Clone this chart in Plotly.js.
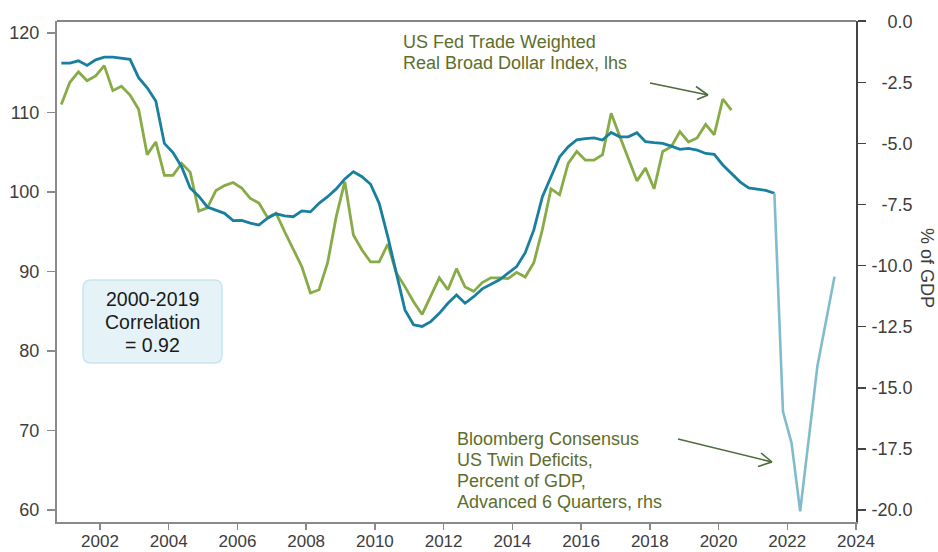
<!DOCTYPE html>
<html>
<head>
<meta charset="utf-8">
<script src="https://cdn.plot.ly/plotly-3.0.1.min.js"></script>
<style>html,body{margin:0;padding:0;background:#fff;}#chart{width:938px;height:552px;}</style>
</head>
<body>
<div id="chart"></div>
<script>
// Quarterly observation dates (decimal years)
const quarters = [
  2000.875, 2001.125, 2001.375, 2001.625, 2001.875, 2002.125, 2002.375, 2002.625, 2002.875, 2003.125,
  2003.375, 2003.625, 2003.875, 2004.125, 2004.375, 2004.625, 2004.875, 2005.125, 2005.375, 2005.625,
  2005.875, 2006.125, 2006.375, 2006.625, 2006.875, 2007.125, 2007.375, 2007.625, 2007.875, 2008.125,
  2008.375, 2008.625, 2008.875, 2009.125, 2009.375, 2009.625, 2009.875, 2010.125, 2010.375, 2010.625,
  2010.875, 2011.125, 2011.375, 2011.625, 2011.875, 2012.125, 2012.375, 2012.625, 2012.875, 2013.125,
  2013.375, 2013.625, 2013.875, 2014.125, 2014.375, 2014.625, 2014.875, 2015.125, 2015.375, 2015.625,
  2015.875, 2016.125, 2016.375, 2016.625, 2016.875, 2017.125, 2017.375, 2017.625, 2017.875, 2018.125,
  2018.375, 2018.625, 2018.875, 2019.125, 2019.375, 2019.625, 2019.875, 2020.125, 2020.375, 2020.625,
  2020.875, 2021.125, 2021.375, 2021.625, 2021.875, 2022.125, 2022.375, 2022.625, 2022.875, 2023.125,
  2023.375
];

// US Fed Trade Weighted Real Broad Dollar Index (lhs)
const dollarIndex = [
  111.0, 113.8, 115.1, 114.0, 114.6, 115.9, 112.75, 113.3, 112.2, 110.4,
  104.7, 106.3, 102.1, 102.1, 103.6, 102.5, 97.6, 98.0, 100.2, 100.8,
  101.2, 100.5, 99.2, 98.6, 96.8, 97.35, 95.0, 92.9, 90.6, 87.3,
  87.7, 91.1, 96.9, 101.3, 94.6, 92.7, 91.2, 91.2, 93.45, 89.8,
  88.1, 86.2, 84.6, 86.9, 89.2, 87.7, 90.35, 88.05, 87.5, 88.6,
  89.2, 89.2, 89.1, 89.9, 89.3, 91.1, 95.3, 100.4, 99.65, 103.6,
  105.1, 104.0, 104.0, 104.7, 109.9, 107.0, 104.2, 101.4, 103.0, 100.4,
  105.1, 105.7, 107.6, 106.3, 106.8, 108.5, 107.2, 111.7, 110.3
];

// US Twin Deficits, % of GDP, advanced 6 quarters (rhs) - actual
const twinDeficits = [
  -1.71, -1.71, -1.62, -1.81, -1.58, -1.47, -1.47, -1.50, -1.56, -2.31,
  -2.72, -3.26, -5.0, -5.37, -5.95, -6.82, -7.16, -7.6, -7.74, -7.86,
  -8.16, -8.15, -8.26, -8.34, -8.06, -7.88, -7.96, -8.0, -7.76, -7.8,
  -7.45, -7.18, -6.86, -6.45, -6.16, -6.36, -6.67, -7.45, -8.81, -10.31,
  -11.81, -12.42, -12.49, -12.29, -11.95, -11.54, -11.2, -11.54, -11.27, -10.95,
  -10.75, -10.58, -10.31, -10.04, -9.47, -8.54, -7.18, -6.33, -5.55, -5.14,
  -4.85, -4.8, -4.77, -4.86, -4.55, -4.73, -4.73, -4.56, -4.93, -4.97,
  -5.0, -5.11, -5.24, -5.2, -5.27, -5.41, -5.45, -5.88, -6.23, -6.57,
  -6.82, -6.86, -6.92, -7.04
];

// Bloomberg consensus projection segment (rhs)
const twinDeficitsConsensus = [-7.04, -15.97, -17.26, -20.05, -17.1, -14.13, -12.29, -10.45];

const xTickVals = [2002, 2004, 2006, 2008, 2010, 2012, 2014, 2016, 2018, 2020, 2022, 2024];
const xTickText = ['2002', '2004', '2006', '2008', '2010', '2012', '2014', '2016', '2018', '2020', '2022', '2024'];
const yLeftTicks = [60, 70, 80, 90, 100, 110, 120];
const yRightTicks = [0, -2.5, -5, -7.5, -10, -12.5, -15, -17.5, -20];
const yRightText = ['\u2004\u20070.0', '\u2007-2.5', '\u2007-5.0', '\u2007-7.5', '-10.0', '-12.5', '-15.0', '-17.5', '-20.0'];

const FONT = "'Liberation Sans', Arial, sans-serif";
const TICKCOL = '#3d3d3d';
const TEXTCOL = '#5d6e2c';
const ARROWCOL = '#4f6b3c';

// plot-area pixel geometry helpers (for decorations only)
const L = 57, R = 856, T = 21, B = 522;
const px = v => (v - L) / (R - L);
const py = v => (B - v) / (B - T);

const traces = [
  {x: quarters.slice(0, dollarIndex.length), y: dollarIndex, type: 'scatter', mode: 'lines',
   line: {color: '#87ab46', width: 2.8}, yaxis: 'y', hoverinfo: 'skip'},
  {x: quarters.slice(0, twinDeficits.length), y: twinDeficits, type: 'scatter', mode: 'lines',
   line: {color: '#187f9f', width: 2.8}, yaxis: 'y2', hoverinfo: 'skip'},
  {x: quarters.slice(twinDeficits.length - 1, twinDeficits.length - 1 + twinDeficitsConsensus.length),
   y: twinDeficitsConsensus, type: 'scatter', mode: 'lines',
   line: {color: '#80bccc', width: 2.6}, yaxis: 'y2', hoverinfo: 'skip'}
];

function arrowShapes(tail, tip, b1, b2) {
  const ln = (a, b) => ({type: 'line', xref: 'paper', yref: 'paper',
    x0: px(a[0]), y0: py(a[1]), x1: px(b[0]), y1: py(b[1]),
    line: {color: ARROWCOL, width: 1.6}});
  return [ln(tail, tip), ln(b1, tip), ln(b2, tip)];
}

function roundRect(x0, y0, x1, y1, r) {
  const X = v => px(v).toFixed(5), Y = v => py(v).toFixed(5);
  return 'M' + X(x0 + r) + ',' + Y(y0) +
    ' L' + X(x1 - r) + ',' + Y(y0) + ' Q' + X(x1) + ',' + Y(y0) + ' ' + X(x1) + ',' + Y(y0 + r) +
    ' L' + X(x1) + ',' + Y(y1 - r) + ' Q' + X(x1) + ',' + Y(y1) + ' ' + X(x1 - r) + ',' + Y(y1) +
    ' L' + X(x0 + r) + ',' + Y(y1) + ' Q' + X(x0) + ',' + Y(y1) + ' ' + X(x0) + ',' + Y(y1 - r) +
    ' L' + X(x0) + ',' + Y(y0 + r) + ' Q' + X(x0) + ',' + Y(y0) + ' ' + X(x0 + r) + ',' + Y(y0) + ' Z';
}

const shapes = [
  {type: 'line', xref: 'paper', yref: 'paper', x0: 0, x1: 1, y0: 1, y1: 1,
   line: {color: '#858585', width: 2}},
  {type: 'path', xref: 'paper', yref: 'paper', path: roundRect(83, 280, 222, 363, 8),
   fillcolor: '#e5f3f9', line: {color: '#c9e5f0', width: 1.5}, layer: 'above'},
  ...arrowShapes([650, 83], [708, 95], [696, 86.5], [697, 99.5]),
  ...arrowShapes([678, 439], [772, 462], [761, 453], [758, 466.5])
];

function textLine(text, xPix, yPix, opts) {
  return Object.assign({
    text: text, xref: 'paper', yref: 'paper', x: px(xPix), y: py(yPix),
    xanchor: 'left', yanchor: 'middle', showarrow: false,
    font: {family: FONT, size: 18, color: TEXTCOL}
  }, opts || {});
}

const annotations = [
  textLine('US Fed Trade Weighted', 401, 42),
  textLine('Real Broad Dollar Index, lhs', 401, 63),
  textLine('Bloomberg Consensus', 455, 439),
  textLine('US Twin Deficits,', 455, 460),
  textLine('Percent of GDP,', 455, 481),
  textLine('Advanced 6 Quarters, rhs', 455, 502),
  textLine('2000-2019', 152, 299, {xanchor: 'center', font: {family: FONT, size: 19.5, color: '#1a1a1a'}}),
  textLine('Correlation', 152, 322, {xanchor: 'center', font: {family: FONT, size: 19.5, color: '#1a1a1a'}}),
  textLine('= 0.92', 152, 345, {xanchor: 'center', font: {family: FONT, size: 19.5, color: '#1a1a1a'}}),
  textLine('% of GDP', 927, 268, {xanchor: 'center', textangle: 90, font: {family: FONT, size: 18, color: TICKCOL}})
];

const layout = {
  width: 938, height: 552,
  margin: {l: L, r: 938 - R, t: T, b: 552 - B, pad: 0},
  paper_bgcolor: '#ffffff', plot_bgcolor: '#ffffff',
  showlegend: false,
  font: {family: FONT, size: 18, color: TICKCOL},
  xaxis: {
    type: 'linear', range: [2000.75, 2024], tickmode: 'array', tickvals: xTickVals, ticktext: xTickText,
    ticks: 'outside', ticklen: 6, tickwidth: 1.5, tickcolor: '#8a8a8a',
    showline: true, linecolor: '#8a8a8a', linewidth: 2, showgrid: false, zeroline: false,
    tickfont: {family: FONT, size: 17, color: TICKCOL}, ticklabelstandoff: -3
  },
  yaxis: {
    range: [58.49, 121.51], tickmode: 'array', tickvals: yLeftTicks, ticktext: yLeftTicks.map(String),
    ticks: 'outside', ticklen: 8, tickwidth: 1.5, tickcolor: '#8a8a8a',
    showline: true, linecolor: '#8a8a8a', linewidth: 2, showgrid: false, zeroline: false,
    tickfont: {family: FONT, size: 18, color: TICKCOL}, ticklabelstandoff: 4
  },
  yaxis2: {
    overlaying: 'y', side: 'right', range: [-20.49, 0.01],
    tickmode: 'array', tickvals: yRightTicks, ticktext: yRightText,
    ticks: 'outside', ticklen: 8, tickwidth: 1.5, tickcolor: '#444444',
    showline: true, linecolor: '#444444', linewidth: 2, showgrid: false, zeroline: false,
    tickfont: {family: FONT, size: 18, color: TICKCOL}, ticklabelstandoff: 2
  },
  shapes: shapes,
  annotations: annotations
};

Plotly.newPlot('chart', traces, layout, {displayModeBar: false, staticPlot: true});
</script>
</body>
</html>
